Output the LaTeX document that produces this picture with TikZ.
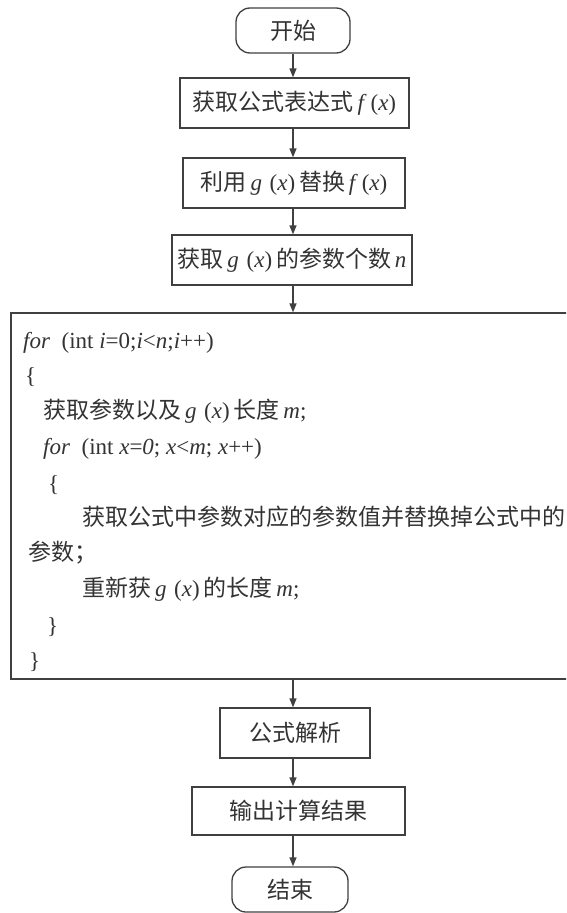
\documentclass[tikz,border=0pt]{standalone}
\usepackage{fontspec}
\setmainfont{Liberation Serif}
\newfontfamily\cjk{Noto Sans CJK SC}
\newcommand{\C}[1]{{\cjk #1}}
\usetikzlibrary{arrows.meta}
\begin{document}
\begin{tikzpicture}[x=1pt,y=-1pt,
  every node/.style={font=\fontsize{23}{27}\selectfont, text=black!80},
  box/.style={draw=black!75, line width=1.3pt, minimum height=50pt, inner sep=0pt},
  term/.style={box, rounded corners=14pt, minimum height=45pt},
  arr/.style={draw=black!75, line width=1.3pt, -{Triangle[length=9pt,width=7pt]}},
  code/.style={anchor=base west, inner sep=0pt}]
\clip (0,0) rectangle (566,913);
\fill[white] (0,0) rectangle (566,913);
\coordinate (ax) at (293,0);
\node[term, minimum width=114pt] (start) at (293,30.5) {\C{开始}};
\node[box, minimum width=229pt] (b1) at (294.5,103) {\C{获取公式表达式}\,\textit{f}\,(\textit{x})};
\node[box, minimum width=222pt] (b2) at (294,183) {\C{利用}\,\textit{g}\,\,(\textit{x})\,\C{替换}\,\textit{f}\,(\textit{x})};
\node[box, minimum width=240pt] (b3) at (292,260) {\C{获取}\,\textit{g}\,\,(\textit{x})\,\C{的参数个数}\,\textit{n}};
\node[box, minimum width=557pt, minimum height=366pt] (big) at (289.5,496) {};
\node[box, minimum width=150pt] (b4) at (295,733) {\C{公式解析}};
\node[box, minimum width=213pt, minimum height=48pt] (b5) at (298.5,811) {\C{输出计算结果}};
\node[term, minimum width=116pt] (end) at (290,889.5) {\C{结束}};
% code lines
\node[code] (l1) at (23,348) {\textit{for}\ \ (int \textit{i}=0;\textit{i}<\textit{n};\textit{i}++)};
\node[code] (l2) at (25,383) {\{};
\node[code] (l3) at (43,418) {\C{获取参数以及}\,\textit{g}\,\,(\textit{x})\,\C{长度}\,\textit{m};};
\node[code] (l4) at (43,454) {\textit{for}\ \ (int \textit{x}=\textit{0}; \textit{x}<\textit{m}; \textit{x}++)};
\node[code] (l5) at (48,491) {\{};
\node[code] (l6) at (82,525) {\C{获取公式中参数对应的参数值并替换掉公式中的}};
\node[code] (l7) at (28,560) {\C{参数；}};
\node[code] (l8) at (82,596) {\C{重新获}\,\textit{g}\,\,(\textit{x})\,\C{的长度}\,\textit{m};};
\node[code] (l9) at (47,633) {\}};
\node[code] (l10) at (29,668) {\}};
% arrows
\draw[arr] (ax |- start.south) -- (ax |- b1.north);
\draw[arr] (ax |- b1.south) -- (ax |- b2.north);
\draw[arr] (ax |- b2.south) -- (ax |- b3.north);
\draw[arr] (ax |- b3.south) -- (ax |- big.north);
\draw[arr] (ax |- big.south) -- (ax |- b4.north);
\draw[arr] (ax |- b4.south) -- (ax |- b5.north);
\draw[arr] (ax |- b5.south) -- (ax |- end.north);
\end{tikzpicture}
\end{document}
